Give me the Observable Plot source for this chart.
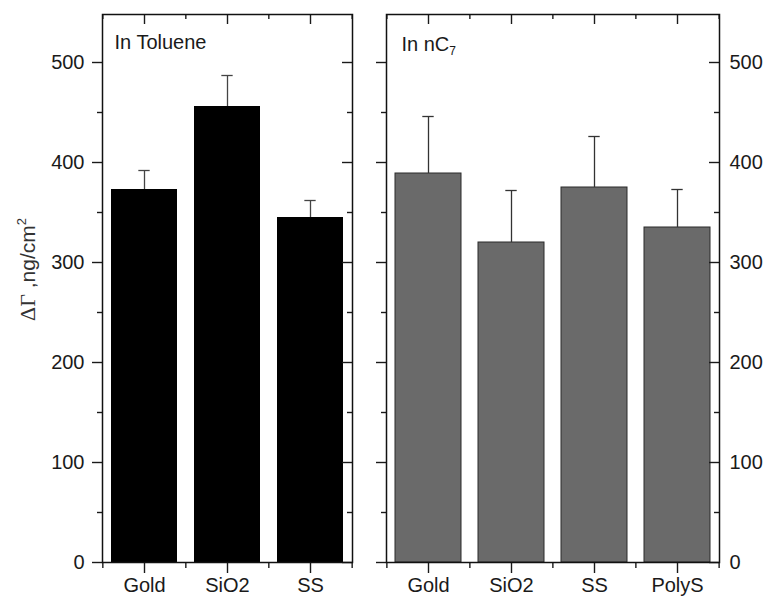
<!DOCTYPE html>
<html><head><meta charset="utf-8">
<script src="https://cdn.jsdelivr.net/npm/d3@7"></script>
<script src="https://cdn.jsdelivr.net/npm/@observablehq/plot@0.6"></script>
<style>
body{margin:0;background:#fff;}
#chart{position:relative;width:764px;height:596px;overflow:hidden;background:#fff;}
#chart svg{position:absolute;top:0;}
</style></head><body><div id="chart"></div>
<script>
// ---- data ----
const tolueneCats = ["Gold", "SiO2", "SS"];
const tolueneVals = [373, 456, 345];
const tolueneErr  = [19, 31, 17];
const heptaneCats = ["Gold", "SiO2", "SS", "PolyS"];
const heptaneVals = [389, 320, 375, 335];
const heptaneErr  = [57, 52, 51, 38];
const yTicks = [0, 100, 200, 300, 400, 500];
const yMinorTicks = [50, 150, 250, 350, 450];
const yMax = 548;
const yTitle = "ΔΓ ,ng/cm2";
const panelTitles = ["In Toluene", "In nC7"];

const FONT = '"Liberation Sans", Arial, Helvetica, sans-serif';
const H = 596, MT = 14, MB = 34;

function panel({cats, vals, errs, fill, stroke, errColor, labelSide, width, marginLeft, marginRight, title, titleDx, titleDy}) {
  const data = cats.map((c, i) => ({cat: c, val: vals[i], hi: vals[i] + errs[i]}));
  const plotW = width - marginLeft - marginRight;
  const plotH = H - MT - MB;
  const step = plotW / cats.length;
  const bw = step * 0.8;
  const tickColor = "#1a1a1a";
  const tw = 1.4;
  return Plot.plot({
    width, height: H, marginLeft, marginRight, marginTop: MT, marginBottom: MB,
    style: {fontFamily: FONT, fontSize: "20px", color: "#1a1a1a", background: "transparent", overflow: "visible"},
    x: {domain: cats, paddingInner: 0.2, paddingOuter: 0.1},
    y: {domain: [0, yMax]},
    marks: [
      Plot.barY(data, {x: "cat", y: "val", fill, stroke, strokeWidth: stroke ? 1 : 0}),
      Plot.ruleX(data, {x: "cat", y1: "val", y2: "hi", stroke: errColor, strokeWidth: 1.3}),
      Plot.tickY(data, {x: "cat", y: "hi", stroke: errColor, strokeWidth: 1.3, inset: (bw - 12) / 2}),
      // y ticks: outward on the left, inward on the right
      Plot.ruleY(yTicks, {y: d => d, insetLeft: -10, insetRight: plotW, stroke: tickColor, strokeWidth: tw}),
      Plot.ruleY(yMinorTicks, {y: d => d, insetLeft: -5, insetRight: plotW, stroke: tickColor, strokeWidth: tw}),
      Plot.ruleY(yTicks, {y: d => d, insetLeft: plotW - 10, stroke: tickColor, strokeWidth: tw}),
      Plot.ruleY(yMinorTicks, {y: d => d, insetLeft: plotW - 5, stroke: tickColor, strokeWidth: tw}),
      // x ticks: inward on top, outward at bottom
      Plot.ruleX(cats, {x: d => d, insetBottom: plotH - 10, stroke: tickColor, strokeWidth: tw}),
      Plot.ruleX(cats, {x: d => d, dx: -step / 2, insetBottom: plotH - 5, stroke: tickColor, strokeWidth: tw}),
      Plot.ruleX(cats.slice(-1), {x: d => d, dx: step / 2, insetBottom: plotH - 5, stroke: tickColor, strokeWidth: tw}),
      Plot.ruleX(cats, {x: d => d, insetTop: plotH, insetBottom: -11, stroke: tickColor, strokeWidth: tw}),
      Plot.ruleX(cats, {x: d => d, dx: -step / 2, insetTop: plotH, insetBottom: -6, stroke: tickColor, strokeWidth: tw}),
      Plot.ruleX(cats.slice(-1), {x: d => d, dx: step / 2, insetTop: plotH, insetBottom: -6, stroke: tickColor, strokeWidth: tw}),
      Plot.frame({stroke: "#111", strokeWidth: 1.5}),
      Plot.axisY({anchor: labelSide, ticks: yTicks, tickSize: 0, tickPadding: labelSide === "left" ? 18 : 10, fontSize: 20, label: null, fill: "#1a1a1a"}),
      Plot.axisX({anchor: "bottom", tickSize: 0, tickPadding: 15, fontSize: 20, label: null, fill: "#1a1a1a"}),
      Plot.text([title], {text: d => d, frameAnchor: "top-left", textAnchor: "start", lineAnchor: "top", dx: titleDx, dy: titleDy, fontSize: 20, fill: "#1a1a1a"}),
      ...(labelSide === "left" ? [
        Plot.text([yTitle], {text: d => d, frameAnchor: "left", rotate: -90, textAnchor: "middle", dx: -74, dy: -19, fontSize: 21, fill: "#333"})
      ] : [])
    ]
  });
}

const left = panel({
  cats: tolueneCats, vals: tolueneVals, errs: tolueneErr,
  fill: "#000", stroke: null, errColor: "#444", labelSide: "left",
  width: 370, marginLeft: 102, marginRight: 18,
  title: panelTitles[0], titleDx: 12, titleDy: 20
});
const right = panel({
  cats: heptaneCats, vals: heptaneVals, errs: heptaneErr,
  fill: "#6a6a6a", stroke: "#2a2a2a", errColor: "#333", labelSide: "right",
  width: 394, marginLeft: 16, marginRight: 45,
  title: panelTitles[1], titleDx: 15, titleDy: 22
});
left.style.left = "0px";
right.style.left = "370px";
const chart = document.getElementById("chart");
chart.appendChild(left);
chart.appendChild(right);

// typographic touches: serif Greek letters, superscript 2, subscript 7
const NS = "http://www.w3.org/2000/svg";
function ts(txt, attrs) {
  const t = document.createElementNS(NS, "tspan");
  for (const k in attrs) t.setAttribute(k, attrs[k]);
  t.textContent = txt;
  return t;
}
for (const t of chart.querySelectorAll("text")) {
  if (t.textContent === yTitle) {
    t.textContent = "";
    t.appendChild(ts("ΔΓ", {"font-family": '"Liberation Serif", "DejaVu Serif", serif', "font-size": "22"}));
    t.appendChild(ts(" ,ng/cm"));
    t.appendChild(ts("2", {"font-size": "13", dy: "-9"}));
  } else if (t.textContent === panelTitles[1]) {
    t.textContent = "";
    t.appendChild(ts("In nC"));
    t.appendChild(ts("7", {"font-size": "12", dy: "4"}));
  }
}
</script>
</body></html>
